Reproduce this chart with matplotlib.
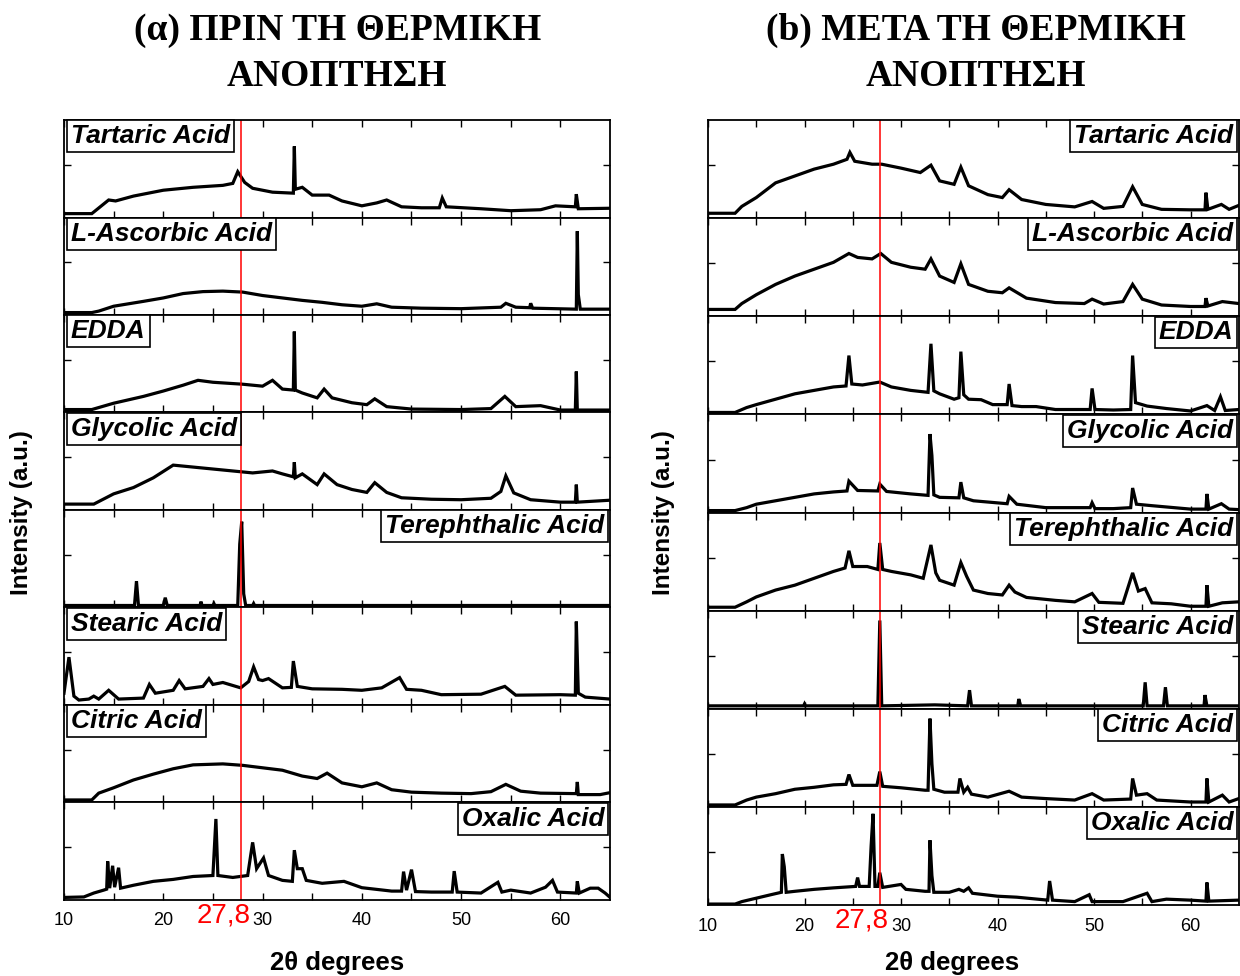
import matplotlib
matplotlib.use('Agg')
import matplotlib.pyplot as plt
import numpy as np
from matplotlib.ticker import MultipleLocator, FixedLocator

# XRD patterns, (2theta, normalised intensity)
tartaric_before = [(10.0, .04), (12.8, .04), (14.5, .18), (15.2, .17), (17, .22), (20, .28), (23, .31), (26, .33),
                   (27.0, .35), (27.5, .47), (28.2, .36), (29, .30), (31, .26), (33.1, .25), (33.2, .73), (33.3, .29),
                   (34, .31), (35, .23), (36.7, .23), (38, .17), (40, .12), (41.5, .15), (42.5, .18), (44, .11),
                   (46, .10), (47.8, .10), (48.1, .20), (48.5, .11), (52, .09), (55, .07), (58, .08), (59.5, .12),
                   (61.5, .11), (61.6, .24), (61.8, .09), (65, .095)]
ascorbic_before = [(10, .025), (12.8, .025), (13.5, .04), (15, .09), (18, .14), (20, .175), (22, .22), (24, .24),
                   (26, .245), (28, .235), (30, .20), (32, .175), (34, .15), (36, .13), (38, .105), (40, .09),
                   (41.5, .115), (43, .08), (46, .07), (50, .065), (54, .08), (54.5, .12), (55.5, .08), (56.9, .075),
                   (57.0, .12), (57.2, .07), (61.6, .06), (61.7, .86), (61.8, .21), (62.0, .06), (65, .06)]
edda_before = [(10, .03), (12.8, .03), (15, .095), (18, .165), (20, .22), (22, .28), (23.5, .33), (25, .31), (28, .29),
               (30, .27), (31, .33), (32, .24), (33.1, .23), (33.2, .83), (33.3, .23), (34, .20), (35.5, .15),
               (36.2, .24), (37, .15), (39, .10), (40.5, .08), (41.3, .14), (42.5, .06), (45, .035), (50, .03),
               (53, .04), (54.4, .165), (55.5, .06), (58, .07), (60, .025), (61.5, .025), (61.6, .42), (61.7, .025),
               (65, .025)]
glycolic_before = [(10, .06), (13, .06), (15, .165), (17, .23), (19, .33), (21, .46), (23, .44), (25, .42), (27, .40),
                   (29, .38), (31, .40), (32, .37), (33.1, .34), (33.2, .49), (33.3, .33), (34, .37), (35.5, .26),
                   (36.2, .37), (37.5, .26), (39, .21), (40.5, .18), (41.3, .28), (42.5, .18), (44, .125), (47, .11),
                   (50, .105), (53, .12), (54, .19), (54.5, .35), (55.3, .175), (57, .105), (60, .08), (61.5, .08),
                   (61.6, .26), (61.7, .08), (65, .10)]
terephthalic_before = [(10, .02), (17.1, .02), (17.3, .27), (17.5, .02), (20.0, .02), (20.2, .10), (20.4, .02),
                       (23.7, .02), (23.8, .06), (23.9, .02), (25, .02), (25.1, .04), (25.2, .02), (27.5, .02),
                       (27.7, .65), (27.9, .88), (28.1, .14), (28.3, .02), (29, .02), (29.1, .04), (29.2, .02),
                       (65, .02)]
stearic_before = [(10, .12), (10.5, .49), (11, .09), (11.5, .05), (12.5, .06), (13, .09), (13.5, .06), (14.5, .15),
                  (15.5, .06), (18, .07), (18.6, .21), (19.2, .12), (21, .15), (21.6, .25), (22.2, .165), (24, .19),
                  (24.6, .27), (25, .21), (26, .23), (27.8, .175), (28.6, .24), (29.1, .39), (29.6, .26), (30, .25),
                  (30.6, .27), (32, .175), (32.9, .18), (33.1, .45), (33.5, .19), (35, .165), (38, .16), (40, .15),
                  (42, .175), (43.8, .28), (44.5, .16), (46, .15), (48, .105), (52, .11), (54.4, .19), (55.5, .10),
                  (60, .105), (61.5, .10), (61.6, .855), (61.8, .12), (62.5, .08), (65, .06)]
citric_before = [(10, .025), (12.8, .025), (13.5, .095), (15, .15), (17, .23), (19, .29), (21, .345), (23, .385),
                 (26, .395), (28, .38), (30, .355), (32, .33), (34, .27), (35.5, .245), (36.5, .30), (38, .20),
                 (40, .16), (41.5, .20), (43, .13), (45, .105), (48, .095), (51, .09), (53, .11), (54.5, .185),
                 (56, .115), (58, .095), (61.6, .09), (61.7, .21), (61.8, .08), (64, .08), (65, .10)]
oxalic_before = [(10, .025), (12, .03), (13, .07), (14, .10), (14.3, .11), (14.4, .395), (14.6, .12), (14.9, .35),
                 (15.1, .13), (15.5, .33), (15.7, .12), (17, .15), (19, .19), (21, .21), (23, .24), (25.0, .25),
                 (25.3, .83), (25.5, .25), (27, .23), (28.5, .25), (29, .59), (29.4, .32), (30.1, .43), (30.6, .25),
                 (32, .20), (33.0, .19), (33.2, .51), (33.5, .32), (34, .32), (34.4, .20), (36, .17), (38.2, .19),
                 (40, .125), (43, .09), (44.0, .09), (44.2, .29), (44.5, .10), (45, .31), (45.4, .085), (47, .08),
                 (49.1, .08), (49.3, .295), (49.6, .08), (52, .07), (53.7, .18), (54.1, .08), (55, .10), (57, .07),
                 (58.5, .13), (59.2, .20), (59.7, .08), (61.6, .07), (61.7, .19), (61.9, .07), (63, .12),
                 (63.8, .12), (64.5, .07), (65, .025)]

tartaric_after = [(10, .05), (12.8, .05), (13.5, .12), (15, .21), (17, .36), (19, .43), (21, .50), (23, .55),
                  (24.4, .60), (24.7, .67), (25.2, .58), (27, .55), (28, .55), (30, .51), (32, .465), (33.1, .54),
                  (34, .38), (35.5, .345), (36.2, .52), (37, .33), (39, .24), (40.5, .21), (41.2, .29), (42.5, .19),
                  (45, .14), (48, .115), (49.8, .17), (51, .10), (53, .12), (54, .32), (55, .14), (57, .09),
                  (60, .085), (61.5, .085), (61.6, .26), (61.8, .09), (63.2, .14), (64, .09), (65, .13)]
ascorbic_after = [(10, .07), (12.8, .07), (13.5, .13), (15, .22), (17, .325), (19, .41), (21, .48), (23, .55),
                  (24.6, .64), (25.5, .60), (27, .585), (27.9, .64), (29, .55), (31, .50), (32.5, .48), (33.1, .585),
                  (34, .41), (35.5, .345), (36.2, .535), (37, .325), (39, .255), (40.5, .24), (41.2, .29),
                  (43, .185), (46, .14), (49, .13), (49.8, .175), (51, .125), (53, .15), (54, .325), (55, .175),
                  (57, .115), (60, .10), (61.5, .10), (61.6, .185), (61.8, .105), (63.3, .15), (65, .13)]
edda_after = [(10, .02), (12.8, .02), (14, .07), (15, .10), (17, .155), (19, .21), (21, .245), (23, .28), (24.3, .29),
              (24.6, .60), (24.9, .31), (26, .30), (27.8, .33), (29, .28), (31, .245), (32.8, .225), (33.1, .72),
              (33.4, .24), (34, .21), (35.5, .155), (36.0, .17), (36.2, .64), (36.5, .20), (37, .155), (38.3, .15),
              (39.5, .10), (41.0, .10), (41.2, .31), (41.5, .09), (42.5, .08), (44, .08), (46, .05), (49.6, .05),
              (49.8, .265), (50.1, .05), (52, .045), (53.8, .05), (54.0, .60), (54.3, .12), (55.5, .085),
              (57.5, .06), (60, .035), (61.7, .09), (62.5, .04), (63.1, .18), (63.6, .04), (65, .05)]
glycolic_after = [(10, .02), (12.8, .02), (14, .05), (15, .085), (17, .12), (19, .155), (21, .19), (23, .21),
                  (24.4, .22), (24.6, .32), (25.5, .225), (27.6, .22), (27.8, .29), (28.5, .215), (31, .19),
                  (32.8, .175), (33.0, .80), (33.2, .58), (33.4, .18), (34, .155), (36.0, .15), (36.2, .31),
                  (36.5, .15), (37.5, .12), (41.0, .09), (41.2, .165), (42, .085), (45, .05), (49.6, .05),
                  (49.8, .10), (50.1, .04), (52, .04), (53.8, .05), (54, .25), (54.4, .085), (56, .07), (60, .035),
                  (61.6, .035), (61.7, .19), (61.9, .035), (63.2, .09), (64, .035), (65, .03)]
terephthalic_after = [(10, .035), (12.8, .035), (14, .09), (15, .14), (17, .21), (19, .26), (21, .33), (23, .40),
                      (24.2, .435), (24.6, .61), (25, .45), (26.5, .45), (27.6, .42), (27.8, .69), (28.1, .42),
                      (29, .40), (31, .365), (32.3, .33), (33.1, .67), (33.6, .385), (34, .31), (35.5, .26),
                      (36.2, .49), (36.8, .35), (37.5, .21), (39, .175), (40.5, .16), (41.2, .26), (41.8, .19),
                      (43, .135), (46, .105), (48, .09), (49.8, .175), (50.5, .085), (53, .075), (54, .385),
                      (54.6, .20), (55.3, .225), (56, .08), (58, .07), (60, .045), (61.6, .045), (61.7, .26),
                      (61.9, .045), (63.3, .08), (65, .09)]
stearic_after = [(10, .03), (19.9, .03), (20.0, .05), (20.1, .03), (27.6, .03), (27.8, .90), (28.0, .03), (33.5, .04),
                 (36.9, .03), (37.1, .19), (37.3, .03), (42.1, .03), (42.2, .10), (42.4, .03), (55.1, .03),
                 (55.3, .27), (55.5, .03), (57.2, .03), (57.4, .22), (57.6, .03), (61.4, .03), (61.5, .14),
                 (61.7, .03), (65, .03)]
citric_after = [(10, .02), (12.8, .02), (14, .07), (15, .10), (17, .135), (19, .18), (21, .20), (23, .225), (24.3, .23),
                (24.6, .33), (25, .22), (27.5, .22), (27.8, .36), (28.1, .21), (30, .195), (32.5, .17), (32.8, .17),
                (33.0, .90), (33.2, .44), (33.4, .18), (34.5, .15), (35.9, .15), (36.1, .29), (36.5, .15),
                (36.9, .20), (37.3, .13), (39, .10), (41.2, .16), (42.5, .10), (45, .085), (48, .07), (49.8, .135),
                (51, .07), (53.8, .08), (54.0, .29), (54.4, .12), (55.5, .135), (56.5, .07), (60, .05), (61.6, .05),
                (61.7, .29), (61.9, .05), (63.3, .12), (64, .05), (65, .085)]
oxalic_after = [(10, .01), (12.8, .01), (13.5, .035), (15, .07), (16.5, .105), (17.6, .13), (17.7, .52), (17.9, .39),
                (18.1, .13), (19, .14), (21, .16), (23, .175), (25.3, .19), (25.5, .28), (25.7, .19), (26.7, .19),
                (26.9, .60), (27.1, .93), (27.3, .19), (27.6, .19), (27.8, .33), (28.1, .18), (30, .21), (30.5, .16),
                (32.5, .14), (32.9, .14), (33.0, .66), (33.2, .30), (33.4, .13), (35, .13), (36, .16), (36.5, .14),
                (37, .175), (37.4, .12), (40, .09), (42, .08), (45.2, .05), (45.4, .245), (45.7, .05), (48, .035),
                (49.5, .105), (49.8, .035), (53, .035), (55.5, .12), (56, .035), (57.5, .06), (60, .05),
                (61.6, .04), (61.7, .23), (61.9, .04), (65, .05)]

sample_names = ['Tartaric Acid', 'L-Ascorbic Acid', 'EDDA', 'Glycolic Acid',
                'Terephthalic Acid', 'Stearic Acid', 'Citric Acid', 'Oxalic Acid']
before = [tartaric_before, ascorbic_before, edda_before, glycolic_before,
          terephthalic_before, stearic_before, citric_before, oxalic_before]
after = [tartaric_after, ascorbic_after, edda_after, glycolic_after,
         terephthalic_after, stearic_after, citric_after, oxalic_after]
marker_2theta = 27.8

SANS = 'Liberation Sans'
SERIF = 'Liberation Serif'
plt.rcParams['font.family'] = SANS

fig = plt.figure(figsize=(12.4, 9.76), dpi=100)


def draw_panel(patterns, box_sides, left, right, bottom, xlabel_x):
    gs = fig.add_gridspec(8, 1, left=left, right=right, top=0.877, bottom=bottom, hspace=0)
    for i, (pts, name, side) in enumerate(zip(patterns, sample_names, box_sides)):
        ax = fig.add_subplot(gs[i])
        pts = np.array(pts)
        ax.plot(pts[:, 0], pts[:, 1], color='black', lw=2.3, solid_joinstyle='miter')
        ax.axvline(marker_2theta, color='red', lw=1.1)
        ax.set_xlim(10, 65)
        ax.set_ylim(0, 1)
        ax.xaxis.set_major_locator(MultipleLocator(10))
        ax.xaxis.set_minor_locator(FixedLocator([15, 25, 35, 45, 55]))
        ax.yaxis.set_major_locator(FixedLocator([0.54]))
        ax.tick_params(which='both', direction='in', top=True, right=True, length=5, width=1.0)
        ax.set_yticklabels([])
        for sp in ax.spines.values():
            sp.set_linewidth(1.3)
        box = dict(boxstyle='square,pad=0.15', fc='white', ec='black', lw=1.2)
        if side == 'left':
            ax.annotate(name, xy=(0, 1), xycoords='axes fraction', xytext=(5, -3), textcoords='offset points',
                        ha='left', va='top', fontsize=19, fontweight='bold', fontstyle='italic', bbox=box)
        else:
            ax.annotate(name, xy=(1, 1), xycoords='axes fraction', xytext=(-4, -3), textcoords='offset points',
                        ha='right', va='top', fontsize=19, fontweight='bold', fontstyle='italic', bbox=box)
        if i < 7:
            ax.set_xticklabels([])
        else:
            ax.tick_params(axis='x', which='major', labelsize=13, pad=9)
            ax.annotate('27,8', xy=(28.75, 0), xycoords=('data', 'axes fraction'), xytext=(0, -2),
                        textcoords='offset points', ha='right', va='top', color='red', fontsize=20)
    fig.text(xlabel_x, 0.013, '2θ degrees', ha='center', va='center', fontsize=18.5, fontweight='bold')


draw_panel(before, ['left', 'left', 'left', 'left', 'right', 'left', 'left', 'right'],
           0.0516, 0.492, 0.078, 0.272)
draw_panel(after, ['right'] * 8, 0.571, 0.999, 0.0727, 0.768)

fig.text(0.0177, 0.475, 'Intensity (a.u.)', rotation=90, ha='center', va='center', fontsize=17.5, fontweight='bold')
fig.text(0.535, 0.475, 'Intensity (a.u.)', rotation=90, ha='center', va='center', fontsize=17.5, fontweight='bold')

fig.text(0.272, 0.945, '(α) ΠΡΙΝ ΤΗ ΘΕΡΜΙΚΗ\nΑΝΟΠΤΗΣΗ', ha='center', va='center', fontsize=27,
         fontweight='bold', family=SERIF, linespacing=1.4)
fig.text(0.787, 0.945, '(b) ΜΕΤΑ ΤΗ ΘΕΡΜΙΚΗ\nΑΝΟΠΤΗΣΗ', ha='center', va='center', fontsize=27,
         fontweight='bold', family=SERIF, linespacing=1.4)

fig.savefig('out.png', dpi=100)
